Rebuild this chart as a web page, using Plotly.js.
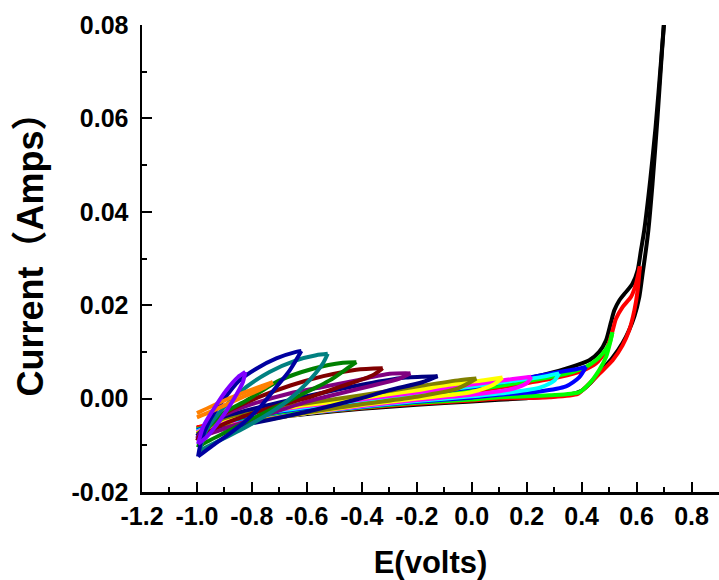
<!DOCTYPE html>
<html>
<head>
<meta charset="utf-8">
<script src="https://cdn.plot.ly/plotly-3.0.1.min.js"></script>
<style>html,body{margin:0;padding:0;background:#fff;}</style>
</head>
<body>
<div id="chart" style="width:719px;height:580px;"></div>
<script>
// ---- Data: cyclic voltammograms, potential E (V) and current I (A) ----
// each loop: starts at the low switching potential, runs to the high one, and back
const E_070 = [-1.0,-0.9,-0.8,-0.6,-0.4,-0.2,0.0,0.2,0.35,0.40,0.43,0.464,0.513,0.549,0.573,0.592,0.610,0.622,0.634,0.643,0.658,0.676,0.692,0.707,
               0.690,0.669,0.650,0.628,0.616,0.604,0.585,0.561,0.537,0.519,0.507,0.489,0.464,0.428,0.380,0.319,0.2,0.0,-0.2,-0.4,-0.6,-0.8,-0.9,-1.0];
const I_070 = [-0.0064,-0.0054,-0.0046,-0.0033,-0.0022,-0.0013,-0.0006,0.0001,0.0008,0.0017,0.0032,0.0055,0.0088,0.0119,0.0147,0.0176,0.0218,0.0268,0.0318,0.0361,0.046,0.060,0.074,0.086,
               0.073,0.058,0.047,0.0361,0.0318,0.0275,0.0246,0.0228,0.0210,0.0189,0.0164,0.0125,0.0100,0.0082,0.0071,0.0060,0.0043,0.0021,0.0005,-0.0008,-0.0021,-0.0037,-0.0047,-0.0064];

const E_060 = [-1.0,-0.9,-0.8,-0.6,-0.4,-0.2,0.0,0.1,0.283,0.386,0.416,0.464,0.513,0.549,0.573,0.592,0.604,0.612,
               0.598,0.580,0.549,0.525,0.513,0.489,0.452,0.404,0.319,0.2,0.0,-0.2,-0.4,-0.6,-0.8,-0.9,-1.0];
const I_060 = [-0.0062,-0.0052,-0.0044,-0.0031,-0.0020,-0.0011,-0.0004,0.0000,0.0003,0.0010,0.0025,0.0053,0.0082,0.0114,0.0146,0.0189,0.0232,0.0283,
               0.0246,0.0218,0.0196,0.0171,0.0146,0.0103,0.0075,0.0060,0.0046,0.0033,0.0015,0.0002,-0.0010,-0.0023,-0.0038,-0.0048,-0.0062];

const E_050 = [-1.0,-0.9,-0.8,-0.6,-0.4,-0.2,0.0,0.101,0.283,0.392,0.428,0.464,0.489,0.503,0.512,
               0.501,0.476,0.452,0.416,0.343,0.2,0.0,-0.2,-0.4,-0.6,-0.8,-0.9,-1.0];
const I_050 = [-0.0066,-0.0055,-0.0046,-0.0031,-0.0019,-0.0009,-0.0002,0.0003,0.0007,0.0014,0.0032,0.0061,0.0089,0.0118,0.0142,
               0.0118,0.0096,0.0082,0.0068,0.0053,0.0037,0.0018,0.0003,-0.0010,-0.0024,-0.0040,-0.0050,-0.0066];

const E_040 = [-1.0,-0.9,-0.8,-0.6,-0.4,-0.2,0.0,0.101,0.246,0.343,0.392,0.416,
               0.38,0.319,0.2,0.0,-0.2,-0.4,-0.6,-0.8,-0.9,-1.0];
const I_040 = [-0.0068,-0.0056,-0.0047,-0.0031,-0.0018,-0.0007,0.0002,0.0008,0.0015,0.0026,0.0046,0.0068,
               0.0063,0.0057,0.0044,0.0024,0.0008,-0.0006,-0.0020,-0.0036,-0.0048,-0.0068];

const E_030 = [-1.0,-0.9,-0.8,-0.6,-0.4,-0.2,0.0,0.15,0.25,0.30,0.318,
               0.25,0.15,0.0,-0.2,-0.4,-0.6,-0.8,-0.9,-1.0];
const I_030 = [-0.0070,-0.0057,-0.0048,-0.0031,-0.0017,-0.0005,0.0005,0.0014,0.0024,0.0038,0.0054,
               0.0046,0.0038,0.0026,0.0010,-0.0004,-0.0018,-0.0034,-0.0047,-0.0070];

const E_020 = [-1.0,-0.9,-0.8,-0.6,-0.4,-0.2,0.0,0.15,0.20,0.217,
               0.15,0.0,-0.2,-0.4,-0.6,-0.8,-0.9,-1.0];
const I_020 = [-0.0072,-0.0058,-0.0049,-0.0031,-0.0016,-0.0003,0.0008,0.0021,0.0033,0.0047,
               0.0042,0.0030,0.0013,-0.0002,-0.0016,-0.0032,-0.0046,-0.0072];

const E_010 = [-1.0,-0.9,-0.8,-0.6,-0.4,-0.2,0.0,0.08,0.112,
               0.05,-0.1,-0.2,-0.4,-0.6,-0.8,-0.9,-1.0];
const I_010 = [-0.0074,-0.0060,-0.0050,-0.0031,-0.0014,0.0000,0.0014,0.0030,0.0045,
               0.0040,0.0028,0.0018,0.0001,-0.0014,-0.0030,-0.0044,-0.0074];

const E_000 = [-1.0,-0.9,-0.8,-0.6,-0.4,-0.2,-0.05,0.017,
               -0.05,-0.2,-0.4,-0.6,-0.8,-0.9,-1.0];
const I_000 = [-0.0076,-0.0061,-0.0051,-0.0030,-0.0012,0.0004,0.0022,0.0043,
               0.0039,0.0026,0.0007,-0.0010,-0.0028,-0.0042,-0.0076];

const E_m010 = [-1.0,-0.9,-0.8,-0.6,-0.42,-0.3,-0.18,-0.124,
                -0.24,-0.36,-0.5,-0.7,-0.85,-0.95,-1.0];
const I_m010 = [-0.0080,-0.0064,-0.0053,-0.0028,-0.0002,0.0018,0.0035,0.0048,
                0.0045,0.0034,0.0018,-0.0008,-0.0030,-0.0050,-0.0080];

const E_m020 = [-1.0,-0.9,-0.8,-0.602,-0.481,-0.360,-0.263,-0.223,
                -0.299,-0.420,-0.542,-0.663,-0.8,-0.9,-0.97,-1.0];
const I_m020 = [-0.0085,-0.0064,-0.0045,-0.0007,0.0011,0.0028,0.0043,0.0054,
                0.0053,0.0039,0.0025,0.0011,-0.0012,-0.0035,-0.0060,-0.0085];

const E_m030 = [-1.0,-0.96,-0.88,-0.78,-0.66,-0.54,-0.42,-0.324,
                -0.360,-0.481,-0.602,-0.72,-0.84,-0.93,-1.0];
const I_m030 = [-0.0090,-0.0055,-0.0025,0.0002,0.0028,0.0048,0.0062,0.0065,
                0.0050,0.0025,0.0001,-0.0018,-0.0040,-0.0062,-0.0090];

const E_m040 = [-0.996,-0.978,-0.905,-0.820,-0.699,-0.578,-0.469,-0.420,
                -0.445,-0.517,-0.639,-0.760,-0.881,-0.978,-0.996];
const I_m040 = [-0.0104,-0.0075,-0.0032,-0.0004,0.0039,0.0064,0.0077,0.0078,
                0.0068,0.0039,0.0003,-0.0032,-0.0068,-0.0097,-0.0104];

const E_m050 = [-0.99,-0.966,-0.90,-0.820,-0.736,-0.639,-0.566,-0.524,
                -0.542,-0.602,-0.675,-0.760,-0.845,-0.929,-0.99];
const I_m050 = [-0.0111,-0.0068,-0.0018,0.0025,0.0057,0.0082,0.0093,0.0096,
                0.0075,0.0032,-0.0007,-0.0040,-0.0068,-0.0093,-0.0111];

const E_m060 = [-0.996,-0.984,-0.954,-0.905,-0.845,-0.784,-0.711,-0.639,-0.620,
                -0.663,-0.711,-0.760,-0.820,-0.881,-0.942,-0.996];
const I_m060 = [-0.0124,-0.0090,-0.0047,-0.0004,0.0039,0.0064,0.0086,0.0100,0.0102,
                0.0060,0.0025,-0.0011,-0.0047,-0.0075,-0.0100,-0.0124];

const E_m070 = [-1.0,-0.9,-0.8,-0.724,
                -0.76,-0.85,-0.95,-1.0];
const I_m070 = [-0.0031,-0.0004,0.0019,0.0035,
                0.0022,-0.0001,-0.0028,-0.0040];

const E_m080 = [-0.996,-0.978,-0.942,-0.893,-0.851,-0.824,
                -0.833,-0.869,-0.917,-0.966,-0.996];
const I_m080 = [-0.0097,-0.0061,-0.0025,0.0018,0.0046,0.0057,
                0.0035,-0.0004,-0.0047,-0.0083,-0.0097];

const xTickVals = [-1.2,-1.0,-0.8,-0.6,-0.4,-0.2,0.0,0.2,0.4,0.6,0.8];
const xTickText = ['-1.2','-1.0','-0.8','-0.6','-0.4','-0.2','0.0','0.2','0.4','0.6','0.8'];
const yTickVals = [-0.02,0.0,0.02,0.04,0.06,0.08];
const yTickText = ['-0.02','0.00','0.02','0.04','0.06','0.08'];
const xTitle = 'E(volts)';
const yTitle = 'Current（Amps）';

// ---- styling ----
const loops = [
  [E_070, I_070, '#000000'], [E_060, I_060, '#FF0000'], [E_050, I_050, '#00FF00'],
  [E_040, I_040, '#0000FF'], [E_030, I_030, '#00FFFF'], [E_020, I_020, '#FF00FF'],
  [E_010, I_010, '#FFFF00'], [E_000, I_000, '#808000'], [E_m010, I_m010, '#000080'],
  [E_m020, I_m020, '#800080'], [E_m030, I_m030, '#800000'], [E_m040, I_m040, '#008000'],
  [E_m050, I_m050, '#008080'], [E_m060, I_m060, '#0000A0'], [E_m070, I_m070, '#FF8000'],
  [E_m080, I_m080, '#8000FF']
];

const traces = [];
loops.forEach(([E, I, color]) => {
  let tip = 0;
  E.forEach((v, k) => { if (v > E[tip]) tip = k; });
  [[0, tip + 1], [tip, E.length]].forEach(([a, b]) => {
    traces.push({
      x: E.slice(a, b), y: I.slice(a, b), type: 'scatter', mode: 'lines',
      line: {color: color, width: 4, shape: 'spline', smoothing: 0.7},
      hoverinfo: 'skip', showlegend: false, cliponaxis: true
    });
  });
});

const fontFam = 'Liberation Sans, Arial, Noto Sans CJK SC, sans-serif';
const layout = {
  width: 719, height: 580,
  margin: {l: 142, r: 0, t: 25, b: 88},
  paper_bgcolor: '#fff', plot_bgcolor: '#fff',
  showlegend: false,
  xaxis: {
    range: [-1.2, 0.9], showgrid: false, zeroline: false,
    showline: true, linecolor: '#000', linewidth: 2.5,
    tickmode: 'array', tickvals: xTickVals, ticktext: xTickText,
    ticks: 'inside', ticklen: 10, tickwidth: 2, tickcolor: '#000',
    minor: {dtick: 0.1, tick0: -1.2, ticks: 'inside', ticklen: 5, tickwidth: 2, tickcolor: '#000', showgrid: false},
    tickfont: {family: fontFam, size: 25, color: '#000', weight: 'bold'},
    ticklabelstandoff: 0,
    title: {text: xTitle, font: {family: fontFam, size: 31, color: '#000', weight: 'bold'}, standoff: 26}
  },
  yaxis: {
    range: [-0.02, 0.08], showgrid: false, zeroline: false,
    showline: true, linecolor: '#000', linewidth: 2.5,
    tickmode: 'array', tickvals: yTickVals, ticktext: yTickText,
    ticks: 'inside', ticklen: 10, tickwidth: 2, tickcolor: '#000',
    minor: {dtick: 0.01, tick0: -0.02, ticks: 'inside', ticklen: 5, tickwidth: 2, tickcolor: '#000', showgrid: false},
    tickfont: {family: fontFam, size: 25, color: '#000', weight: 'bold'},
    ticklabelstandoff: 6
  },
  annotations: [{
    text: yTitle, textangle: -90, showarrow: false,
    xref: 'paper', yref: 'paper', x: -0.193, y: 0.527, xanchor: 'center', yanchor: 'middle',
    font: {family: fontFam, size: 36, color: '#000', weight: 'bold'}
  }]
};

Plotly.newPlot('chart', traces, layout, {staticPlot: true, displayModeBar: false});
</script>
</body>
</html>
